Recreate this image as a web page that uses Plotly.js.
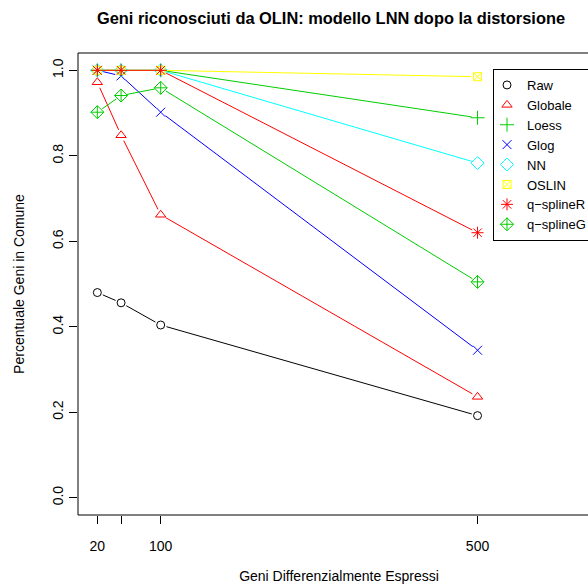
<!DOCTYPE html>
<html>
<head>
<meta charset="utf-8">
<script src="https://cdn.plot.ly/plotly-3.0.1.min.js"></script>
<style>
  html, body { margin: 0; padding: 0; background: #ffffff; overflow: hidden; }
  #chart { width: 600px; height: 586px; }
</style>
</head>
<body>
<div id="chart"></div>
<script>
// Number of differentially expressed genes considered
const geniDE = [20, 50, 100, 500];

// Fraction of genes in common, one array per normalisation method
const raw       = [0.480, 0.456, 0.404, 0.192];
const globale   = [0.972, 0.848, 0.662, 0.236];
const loess     = [1.000, 1.000, 1.000, 0.889];
const glog      = [1.000, 0.987, 0.902, 0.345];
const nn        = [1.000, 1.000, 1.000, 0.783];
const oslin     = [1.000, 1.000, 1.000, 0.985];
const qsplineR  = [1.000, 1.000, 1.000, 0.620];
const qsplineG  = [0.902, 0.941, 0.959, 0.505];

const seriesNames = ["Raw", "Globale", "Loess", "Glog", "NN", "OSLIN", "q\u2212splineR", "q\u2212splineG"];
const seriesValues = [raw, globale, loess, glog, nn, oslin, qsplineR, qsplineG];

// x tick positions and their labels (the 50 label is dropped to avoid overlap)
const xTickVals = [20, 50, 100, 500];
const xTickText = ["20", "", "100", "500"];
const yTickVals = [0, 0.2, 0.4, 0.6, 0.8, 1.0];
const yTickText = ["0.0", "0.2", "0.4", "0.6", "0.8", "1.0"];

// ---- styling ----
const colors  = ["#000000", "#FF0000", "#00CD00", "#0000FF", "#00FFFF", "#FFFF00", "#FF0000", "#00CD00"];
const symbols = ["circle-open", "triangle-up-open", "cross-thin-open", "x-thin-open",
                 "diamond-open", "square-x-open", "asterisk-open", "diamond-cross-open"];
const sizes   = [8, 9, 10, 9, 10, 8, 10, 10];

// The plotting region runs past the right edge of the visible page
const W = 600, H = 586;
const M = { l: 78, r: 0, t: 53, b: 71 };
const X_RANGE = [-4.4, 654.6];
const Y_RANGE = [-0.0405, 1.0405];
const plotW = W - M.l - M.r;
const plotH = H - M.t - M.b;
const kx = plotW / (X_RANGE[1] - X_RANGE[0]);
const ky = plotH / (Y_RANGE[1] - Y_RANGE[0]);
const GAP = 6; // px left empty around each point on the connecting lines

// Connecting segments that stop short of each point ("both" style line)
function gappedLine(xs, ys) {
  const ox = [], oy = [];
  for (let i = 0; i < xs.length - 1; i++) {
    const dxp = (xs[i + 1] - xs[i]) * kx;
    const dyp = (ys[i + 1] - ys[i]) * ky;
    const len = Math.hypot(dxp, dyp);
    if (len <= 2 * GAP) continue;
    const f = GAP / len;
    const ddx = xs[i + 1] - xs[i], ddy = ys[i + 1] - ys[i];
    ox.push(xs[i] + ddx * f, xs[i + 1] - ddx * f, null);
    oy.push(ys[i] + ddy * f, ys[i + 1] - ddy * f, null);
  }
  return { x: ox, y: oy };
}

const traces = [];
seriesValues.forEach((vals, i) => {
  const seg = gappedLine(geniDE, vals);
  traces.push({
    type: "scatter", mode: "lines", x: seg.x, y: seg.y,
    line: { color: colors[i], width: 1 },
    showlegend: false, hoverinfo: "skip", connectgaps: false
  });
  traces.push({
    type: "scatter", mode: "markers", x: geniDE, y: vals, name: seriesNames[i],
    marker: { symbol: symbols[i], size: sizes[i], color: colors[i],
              line: { color: colors[i], width: 1 } }
  });
});

const font = "Liberation Sans, Arial, Helvetica, sans-serif";
const FS = 14;

// Plot frame: left, bottom and top sides
const frame = { type: "line", xref: "paper", yref: "paper", line: { color: "#000000", width: 1 } };
const shapes = [
  Object.assign({}, frame, { x0: 0, x1: 0, y0: 0, y1: 1 }),
  Object.assign({}, frame, { x0: 0, x1: 1, y0: 0, y1: 0 }),
  Object.assign({}, frame, { x0: 0, x1: 1, y0: 1, y1: 1 })
];

const layout = {
  width: W, height: H,
  margin: { l: M.l, r: M.r, t: M.t, b: M.b, pad: 0, autoexpand: false },
  paper_bgcolor: "#ffffff", plot_bgcolor: "#ffffff",
  font: { family: font, size: FS, color: "#000000" },
  title: {
    text: "<b>Geni riconosciuti da OLIN: modello LNN dopo la distorsione</b>",
    font: { family: font, size: 16.4, color: "#000000" },
    xref: "container", x: 331 / W, xanchor: "center",
    yref: "container", y: 1 - 18 / H, yanchor: "middle"
  },
  shapes: shapes,
  xaxis: {
    range: X_RANGE, tickmode: "array", tickvals: xTickVals, ticktext: xTickText,
    ticks: "outside", ticklen: 8, tickwidth: 1, tickcolor: "#000000",
    showline: false, showgrid: false, zeroline: false, automargin: false,
    tickfont: { family: font, size: FS, color: "#000000" },
    ticklabelstandoff: 10,
    title: { text: "Geni Differenzialmente Espressi", standoff: 18,
             font: { family: font, size: FS, color: "#000000" } }
  },
  yaxis: {
    range: Y_RANGE, tickmode: "array", tickvals: yTickVals, ticktext: yTickText,
    ticks: "outside", ticklen: 8, tickwidth: 1, tickcolor: "#000000",
    showline: false, showgrid: false, zeroline: false, automargin: false, tickangle: -90,
    tickfont: { family: font, size: FS, color: "#000000" },
    title: { text: "Percentuale Geni in Comune", standoff: 22,
             font: { family: font, size: FS, color: "#000000" } }
  },
  legend: {
    x: (493 - M.l) / plotW, xanchor: "left",
    y: (H - M.b - 69) / plotH, yanchor: "top",
    bgcolor: "#ffffff", bordercolor: "#000000", borderwidth: 1,
    font: { family: font, size: 13, color: "#000000" },
    itemwidth: 30, tracegroupgap: 0, indentation: -7
  },
  showlegend: true
};

Plotly.newPlot("chart", traces, layout, { staticPlot: true, displayModeBar: false });
</script>
</body>
</html>
